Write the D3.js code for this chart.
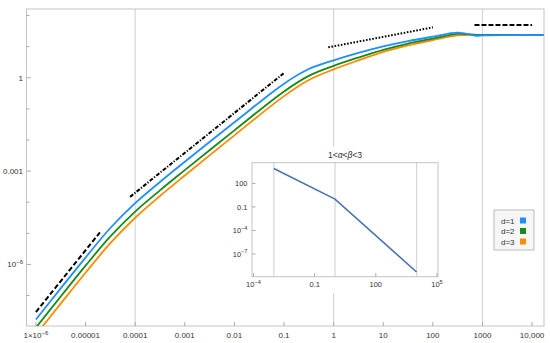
<!DOCTYPE html>
<html>
<head>
<meta charset="utf-8">
<script src="https://cdn.jsdelivr.net/npm/d3@7"></script>
<style>
  html, body { margin: 0; padding: 0; background: #fff; }
  svg text { font-family: "Liberation Sans", Arial, sans-serif; fill: #333; }
</style>
</head>
<body>
<div id="chart"></div>
<script>
// sample points (x shared by the three series)
const xs = [1e-6, 3.16e-6, 1e-5, 3.16e-5, 1e-4, 3.16e-4, 1e-3, 0.01, 0.1, 0.316, 1, 3.16, 10, 31.6, 100, 316, 750, 1000, 3160, 17000];
const d1 = [1.70e-8, 1.70e-7, 1.66e-6, 1.48e-5, 9.3e-5, 4.47e-4, 2.0e-3, 0.037, 0.646, 1.91, 3.63, 6.3, 10.2, 15.1, 20.9, 28.2, 22.4, 23.1, 23.6, 23.6];
const d2 = [9.3e-9, 9.3e-8, 9.1e-7, 7.9e-6, 5.0e-5, 2.4e-4, 1.07e-3, 0.0204, 0.363, 1.15, 2.40, 4.47, 7.9, 12.6, 18.2, 25.7, 23.9, 24, 24, 24];
const d3v = [5.5e-9, 5.5e-8, 5.4e-7, 4.8e-6, 3.16e-5, 1.58e-4, 7.2e-4, 0.0141, 0.257, 0.85, 1.86, 3.63, 6.8, 11.0, 16.2, 22.9, 24, 24, 24, 24];
const seriesNames = ["d=1", "d=2", "d=3"];

// black reference slopes
const guideSlope2 = [[1e-6, 2.95e-8], [1.95e-5, 1.07e-5]];
const guideSlope43 = [[7.9e-5, 1.48e-4], [0.098, 1.38]];
const guideSlope13 = [[0.78, 9.5], [100, 41.7]];
const guideFlat = [[690, 50], [10000, 50]];

// main axes ticks
const xTicks = [1e-6, 1e-5, 1e-4, 1e-3, 0.01, 0.1, 1, 10, 100, 1000, 10000];
const xTickLabels = ["1×10^−6", "0.00001", "0.0001", "0.001", "0.01", "0.1", "1", "10", "100", "1000", "10,000"];
const yTicks = [1e-6, 1e-3, 1];
const yTickLabels = ["10^−6", "0.001", "1"];
const xGrid = [1e-4, 1, 1000];

// inset
const insetX = [1e-3, 1, 1e4];
const insetY = [8000, 1, 5e-10];
const insetXTicks = [1e-4, 0.1, 100, 1e5];
const insetXLabels = ["10^−4", "0.1", "100", "10^5"];
const insetYTicks = [100, 0.1, 1e-4, 1e-7];
const insetYLabels = ["100", "0.1", "10^−4", "10^−7"];
const insetGrid = [1e-3, 1, 1e4];

const W = 550, H = 343;
const colors = ["#1f8fff", "#1a8a1a", "#ff8a00"];

const svg = d3.select("#chart").append("svg").attr("width", W).attr("height", H);

const x = d3.scaleLog().domain([Math.pow(10, -6.19), Math.pow(10, 4.24)]).range([26.5, 544]);
const y = d3.scaleLog().domain([Math.pow(10, -7.98), Math.pow(10, 2.21)]).range([326, 9]);

// label with optional superscript written as "base^exp"
function label(sel, txt, size) {
  const parts = txt.split("^");
  sel.text(parts[0]);
  if (parts.length > 1) {
    sel.append("tspan").attr("dy", -3.5).attr("font-size", size * 0.75).text(parts[1]);
  }
}

svg.append("clipPath").attr("id", "plotclip").append("rect")
  .attr("x", 26.5).attr("y", 9).attr("width", 544 - 26.5).attr("height", 326 - 9);

// grid
svg.selectAll(".grid").data(xGrid).enter().append("line")
  .attr("x1", d => x(d)).attr("x2", d => x(d))
  .attr("y1", 9).attr("y2", 326)
  .attr("stroke", "#d6d6d6").attr("stroke-width", 1.2);

// frame
svg.append("rect").attr("x", 26.5).attr("y", 9).attr("width", 544 - 26.5).attr("height", 326 - 9)
  .attr("fill", "none").attr("stroke", "#c4c4c4").attr("stroke-width", 1);

// x ticks
const allXDec = d3.range(-6, 5).map(e => Math.pow(10, e));
svg.selectAll(".xt").data(allXDec).enter().append("line")
  .attr("x1", d => x(d)).attr("x2", d => x(d)).attr("y1", 326).attr("y2", 322)
  .attr("stroke", "#aaa");
svg.selectAll(".xl").data(xTicks).enter().append("text")
  .attr("x", d => x(d)).attr("y", 338).attr("text-anchor", "middle").attr("font-size", 8)
  .each(function(d, i) { label(d3.select(this), xTickLabels[i], 8); });

// y ticks
const allYDec = d3.range(-7, 3).map(e => Math.pow(10, e));
svg.selectAll(".yt").data(allYDec).enter().append("line")
  .attr("x1", 26.5).attr("x2", d => yTicks.includes(d) ? 31 : 29.5)
  .attr("y1", d => y(d)).attr("y2", d => y(d))
  .attr("stroke", "#aaa");
svg.selectAll(".yl").data(yTicks).enter().append("text")
  .attr("x", 23).attr("y", d => y(d) + 3).attr("text-anchor", "end").attr("font-size", 8)
  .each(function(d, i) { label(d3.select(this), yTickLabels[i], 8); });

// curves
const line = d3.line().x(d => x(d[0])).y(d => y(d[1])).curve(d3.curveCatmullRom.alpha(0.5));
const plot = svg.append("g").attr("clip-path", "url(#plotclip)");
[d3v, d2, d1].forEach((vals, k) => {
  const idx = 2 - k;
  plot.append("path").datum(xs.map((v, i) => [v, vals[i]]))
    .attr("d", line).attr("fill", "none")
    .attr("stroke", colors[idx]).attr("stroke-width", 1.8);
});

// guide lines
const straight = d3.line().x(d => x(d[0])).y(d => y(d[1]));
[[guideSlope2, "5,2.5"], [guideSlope43, "4,1.6,1.2,1.6"], [guideSlope13, "1.6,1.6"], [guideFlat, "5,2"]]
  .forEach(g => {
    plot.append("path").datum(g[0]).attr("d", straight)
      .attr("fill", "none").attr("stroke", "#000").attr("stroke-width", 2)
      .attr("stroke-dasharray", g[1]);
  });

// legend
const lg = svg.append("g");
lg.append("rect").attr("x", 494).attr("y", 210).attr("width", 40).attr("height", 40)
  .attr("fill", "#f6f6f6").attr("stroke", "#bbb");
seriesNames.forEach((n, i) => {
  lg.append("text").attr("x", 501).attr("y", 223.5 + i * 10.5).attr("font-size", 8).text(n);
  lg.append("rect").attr("x", 520).attr("y", 217.5 + i * 10.5).attr("width", 6).attr("height", 6)
    .attr("fill", colors[i]);
});

// inset
const ix = d3.scaleLog().domain([Math.pow(10, -4.07), Math.pow(10, 5.05)]).range([252, 438]);
const iy = d3.scaleLog().domain([Math.pow(10, -9.9), Math.pow(10, 4.64)]).range([276.7, 162.7]);
const ins = svg.append("g");
ins.append("rect").attr("x", 226).attr("y", 147).attr("width", 218).attr("height", 146).attr("fill", "#fff");
ins.selectAll(".ig").data(insetGrid).enter().append("line")
  .attr("x1", d => ix(d)).attr("x2", d => ix(d)).attr("y1", 162.7).attr("y2", 276.7)
  .attr("stroke", "#d6d6d6").attr("stroke-width", 1.2);
ins.append("rect").attr("x", 252).attr("y", 162.7).attr("width", 186).attr("height", 114)
  .attr("fill", "none").attr("stroke", "#c4c4c4");
ins.selectAll(".ixt").data(insetXTicks).enter().append("line")
  .attr("x1", d => ix(d)).attr("x2", d => ix(d)).attr("y1", 276.7).attr("y2", 273)
  .attr("stroke", "#aaa");
ins.selectAll(".ixl").data(insetXTicks).enter().append("text")
  .attr("x", d => ix(d)).attr("y", 287).attr("text-anchor", "middle").attr("font-size", 7.5)
  .each(function(d, i) { label(d3.select(this), insetXLabels[i], 7.5); });
ins.selectAll(".iyt").data(insetYTicks).enter().append("line")
  .attr("x1", 252).attr("x2", 255.5).attr("y1", d => iy(d)).attr("y2", d => iy(d))
  .attr("stroke", "#aaa");
ins.selectAll(".iyl").data(insetYTicks).enter().append("text")
  .attr("x", 247.5).attr("y", d => iy(d) + 3).attr("text-anchor", "end").attr("font-size", 7.5)
  .each(function(d, i) { label(d3.select(this), insetYLabels[i], 7.5); });
ins.append("path").datum(insetX.map((v, i) => [v, insetY[i]]))
  .attr("d", d3.line().x(d => ix(d[0])).y(d => iy(d[1])))
  .attr("fill", "none").attr("stroke", "#4a72b4").attr("stroke-width", 1.6);

const title = ins.append("text").attr("x", 345).attr("y", 158).attr("text-anchor", "middle").attr("font-size", 8.5);
title.append("tspan").text("1<");
title.append("tspan").attr("font-style", "italic").text("α");
title.append("tspan").text("<");
title.append("tspan").attr("font-style", "italic").text("β");
title.append("tspan").text("<3");
</script>
</body>
</html>
